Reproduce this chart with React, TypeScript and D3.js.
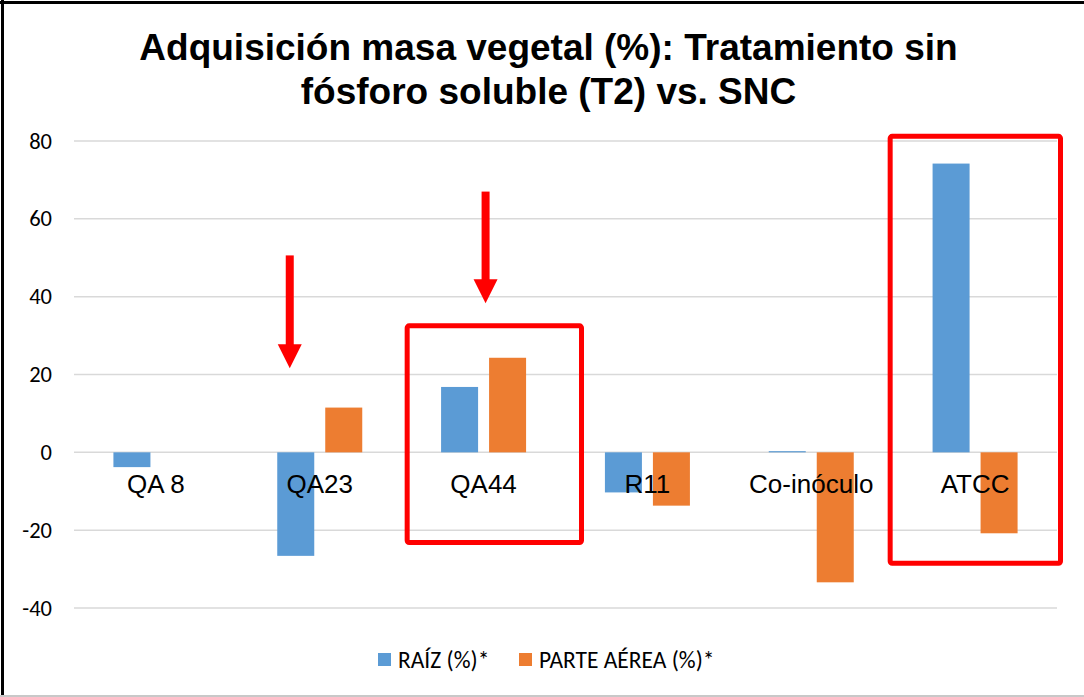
import React, { useEffect } from "react";
import * as d3 from "d3";

const categories = ["QA 8", "QA23", "QA44", "R11", "Co-inóculo", "ATCC"];
const seriesNames = ["RAÍZ (%)*", "PARTE AÉREA (%)*"];
const raiz = [-3.8, -26.6, 16.8, -10.3, 0.3, 74.2];
const parteAerea = [0, 11.5, 24.3, -13.7, -33.4, -20.8];
const yTicks = [-40, -20, 0, 20, 40, 60, 80];
const titleLines = ["Adquisición masa vegetal (%): Tratamiento sin", "fósforo soluble (T2) vs. SNC"];
const colors = ["#5B9BD5", "#ED7D31"];

// annotation boxes (category, y top, y bottom) and arrows (category, y start, y tip)
const boxes = [
  { cat: "QA44", top: 32.5, bottom: -23.2, dx0: 5.5, dx1: 16 },
  { cat: "ATCC", top: 81.2, bottom: -28.5, dx0: -3, dx1: 3.5 },
];
const arrows = [
  { cat: "QA23", from: 50.6, to: 21.6, dx: -30 },
  { cat: "QA44", from: 67, to: 38.3, dx: 2 },
];

const W = 1084;
const H = 697;

export default function App() {
  useEffect(() => {
    document.body.style.margin = "0";
  }, []);

  const x0 = d3.scaleBand<string>().domain(categories).range([74, 1057]).padding(0);
  const x1 = d3.scaleBand<string>().domain(seriesNames).range([0, 85]).paddingInner(0.229).paddingOuter(0);
  const y = d3.scaleLinear().domain([-40, 80]).range([608, 141]);
  const groupOffset = (x0.bandwidth() - 85) / 2;
  const values = [raiz, parteAerea];

  const labelFont = "'Liberation Sans', Arial, sans-serif";
  const calibri = "Calibri, Carlito, 'Open Sans', sans-serif";

  return (
    <svg width={W} height={H} style={{ display: "block", background: "#fff" }}>
      <rect x={0} y={0} width={W} height={H} fill="#fff" />
      {/* frame */}
      <line x1={0} x2={W} y1={2.5} y2={2.5} stroke="#000" strokeWidth={3} />
      <line x1={2.5} x2={2.5} y1={0} y2={H} stroke="#000" strokeWidth={3} />
      <line x1={0} x2={W} y1={696} y2={696} stroke="#c8c8c8" strokeWidth={2} />

      {/* title */}
      {titleLines.map((t, i) => (
        <text
          key={i}
          x={548.5}
          y={60 + i * 44}
          textAnchor="middle"
          fontFamily={labelFont}
          fontWeight="bold"
          fontSize={37}
          fill="#000"
        >
          {t}
        </text>
      ))}

      {/* gridlines */}
      {yTicks.map((t) => (
        <g key={t}>
          <line x1={74} x2={1057} y1={y(t)} y2={y(t)} stroke="#d9d9d9" strokeWidth={1.5} />
          <text
            x={52}
            y={y(t)}
            dy="0.34em"
            textAnchor="end"
            fontFamily={calibri}
            fontSize={22.5}
            fill="#000"
          >
            {t}
          </text>
        </g>
      ))}

      {/* bars */}
      {categories.map((c, ci) => (
        <g key={c}>
          {seriesNames.map((s, si) => {
            const v = values[si][ci];
            if (v === 0) return null;
            const bx = (x0(c) as number) + groupOffset + (x1(s) as number);
            return (
              <rect
                key={s}
                x={bx}
                y={Math.min(y(v), y(0))}
                width={x1.bandwidth()}
                height={Math.abs(y(v) - y(0))}
                fill={colors[si]}
              />
            );
          })}
        </g>
      ))}

      {/* category labels */}
      {categories.map((c) => (
        <text
          key={c}
          x={(x0(c) as number) + x0.bandwidth() / 2}
          y={493}
          textAnchor="middle"
          fontFamily={labelFont}
          fontSize={26}
          fill="#000"
        >
          {c}
        </text>
      ))}

      {/* annotations */}
      {boxes.map((b, i) => {
        const bx0 = (x0(b.cat) as number) + b.dx0;
        const bx1 = (x0(b.cat) as number) + x0.bandwidth() + b.dx1;
        return (
          <rect
            key={i}
            x={bx0}
            y={y(b.top)}
            width={bx1 - bx0}
            height={y(b.bottom) - y(b.top)}
            fill="none"
            stroke="#FF0000"
            strokeWidth={5}
            rx={2}
          />
        );
      })}
      {arrows.map((a, i) => {
        const cx = (x0(a.cat) as number) + x0.bandwidth() / 2 + a.dx;
        const yStart = y(a.from);
        const yTip = y(a.to);
        const headLen = 24;
        return (
          <g key={i}>
            <rect x={cx - 4} y={yStart} width={8} height={yTip - yStart - headLen + 1} fill="#FF0000" />
            <path
              d={`M${cx - 12},${yTip - headLen} L${cx + 12},${yTip - headLen} L${cx},${yTip} Z`}
              fill="#FF0000"
            />
          </g>
        );
      })}

      {/* legend */}
      {seriesNames.map((s, i) => {
        const lx = i === 0 ? 378 : 519;
        return (
          <g key={s}>
            <rect x={lx} y={653} width={13} height={13} fill={colors[i]} />
            <text x={lx + 20} y={667.5} fontFamily={calibri} fontSize={23.5} fill="#000">
              {s}
            </text>
          </g>
        );
      })}
    </svg>
  );
}
